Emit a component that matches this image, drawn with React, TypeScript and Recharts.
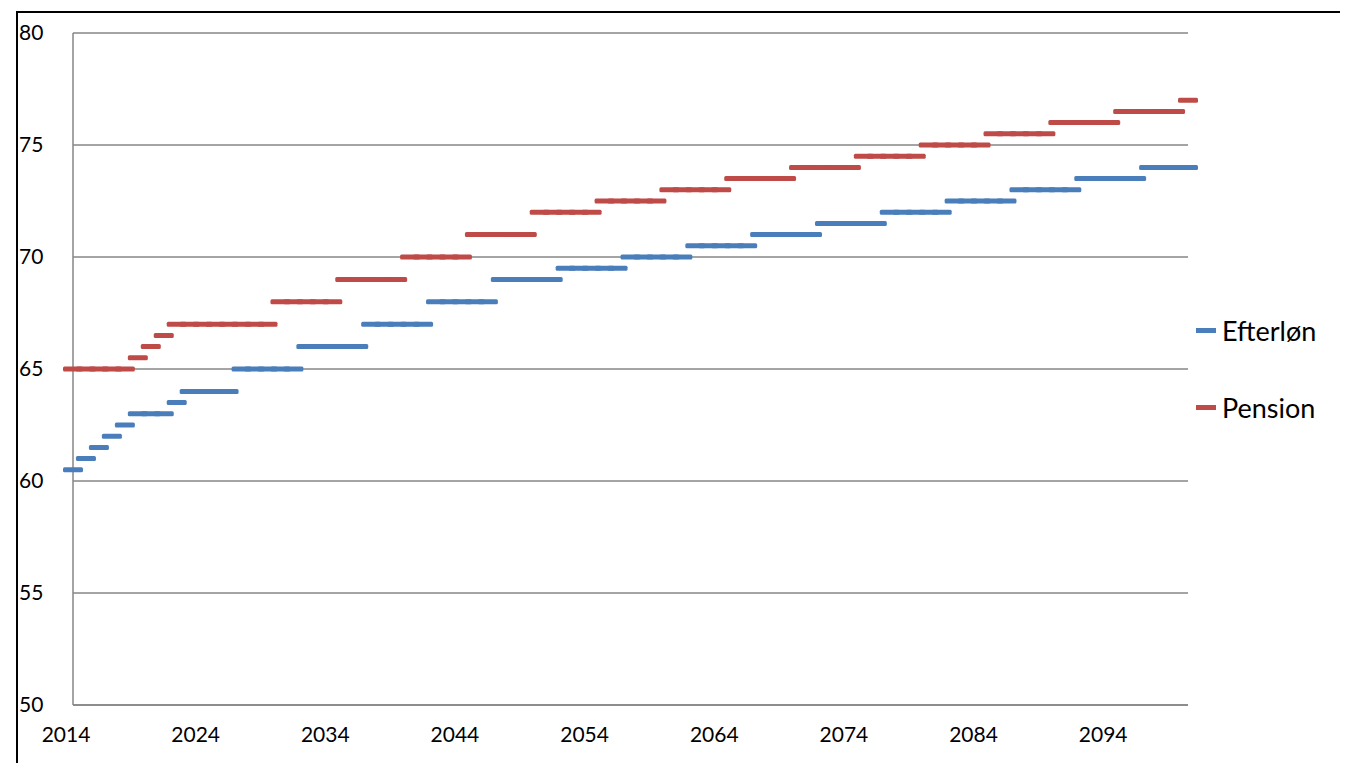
import { CartesianGrid, Line, LineChart, XAxis, YAxis } from "recharts";

const years = [
  2014, 2015, 2016, 2017, 2018, 2019, 2020, 2021, 2022, 2023, 2024, 2025, 2026, 2027, 2028, 2029,
  2030, 2031, 2032, 2033, 2034, 2035, 2036, 2037, 2038, 2039, 2040, 2041, 2042, 2043, 2044, 2045,
  2046, 2047, 2048, 2049, 2050, 2051, 2052, 2053, 2054, 2055, 2056, 2057, 2058, 2059, 2060, 2061,
  2062, 2063, 2064, 2065, 2066, 2067, 2068, 2069, 2070, 2071, 2072, 2073, 2074, 2075, 2076, 2077,
  2078, 2079, 2080, 2081, 2082, 2083, 2084, 2085, 2086, 2087, 2088, 2089, 2090, 2091, 2092, 2093,
  2094, 2095, 2096, 2097, 2098, 2099, 2100,
];

const efterlon = [
  60.5, 61, 61.5, 62, 62.5, 63, 63, 63, 63.5, 64, 64, 64, 64, 65, 65, 65,
  65, 65, 66, 66, 66, 66, 66, 67, 67, 67, 67, 67, 68, 68, 68, 68,
  68, 69, 69, 69, 69, 69, 69.5, 69.5, 69.5, 69.5, 69.5, 70, 70, 70, 70, 70,
  70.5, 70.5, 70.5, 70.5, 70.5, 71, 71, 71, 71, 71, 71.5, 71.5, 71.5, 71.5, 71.5, 72,
  72, 72, 72, 72, 72.5, 72.5, 72.5, 72.5, 72.5, 73, 73, 73, 73, 73, 73.5, 73.5,
  73.5, 73.5, 73.5, 74, 74, 74, 74,
];

const pension = [
  65, 65, 65, 65, 65, 65.5, 66, 66.5, 67, 67, 67, 67, 67, 67, 67, 67,
  68, 68, 68, 68, 68, 69, 69, 69, 69, 69, 70, 70, 70, 70, 70, 71,
  71, 71, 71, 71, 72, 72, 72, 72, 72, 72.5, 72.5, 72.5, 72.5, 72.5, 73, 73,
  73, 73, 73, 73.5, 73.5, 73.5, 73.5, 73.5, 74, 74, 74, 74, 74, 74.5, 74.5, 74.5,
  74.5, 74.5, 75, 75, 75, 75, 75, 75.5, 75.5, 75.5, 75.5, 75.5, 76, 76, 76, 76,
  76, 76.5, 76.5, 76.5, 76.5, 76.5, 77,
];

const yTicks = [50, 55, 60, 65, 70, 75, 80];

const BLUE = "#4a7ebb";
const RED = "#be4b48";
const FONT = "Lato, 'Open Sans', sans-serif";

const data = years.map((year, i) => ({ year, efterlon: efterlon[i], pension: pension[i] }));

const dash = (color: string) => (props: any) => {
  const { cx, cy, index } = props;
  if (cx == null || cy == null) return <g key={index} />;
  return <rect key={index} x={cx - 10} y={cy - 2.5} width={20} height={5} rx={1.5} fill={color} />;
};

function LegendBox() {
  const item = (color: string, label: string) => (
    <div style={{ display: "flex", alignItems: "center", height: 77 }}>
      <div style={{ width: 20, height: 5, background: color, marginRight: 6 }} />
      <span style={{ fontSize: 27, color: "#000" }}>{label}</span>
    </div>
  );
  return (
    <div style={{ fontFamily: FONT }}>
      {item(BLUE, "Efterløn")}
      {item(RED, "Pension")}
    </div>
  );
}

export default function App() {
  return (
    <div style={{ position: "relative", width: 1348, height: 771, margin: -8, background: "#fff", overflow: "hidden" }}>
      <div
        style={{
          position: "absolute",
          left: 16,
          top: 11,
          width: 1400,
          height: 800,
          borderLeft: "2px solid #000",
          borderTop: "2px solid #000",
        }}
      />
      <div style={{ position: "absolute", left: 0, top: 0 }}>
        <LineChart width={1348} height={771} data={data} margin={{ top: 33, right: 160, bottom: 0, left: 23 }}>
          <CartesianGrid vertical={false} stroke="#868686" strokeWidth={1.5} />
          <XAxis
            dataKey="year"
            interval={9}
            height={66}
            stroke="#868686"
            strokeWidth={1.5}
            tickLine={false}
            tick={{ fill: "#000", fontSize: 21, fontFamily: FONT, dx: -7 }}
            tickMargin={16}
          />
          <YAxis
            domain={[50, 80]}
            ticks={yTicks}
            width={50}
            stroke="#868686"
            strokeWidth={1.5}
            tickLine={false}
            tick={{ fill: "#000", fontSize: 21, fontFamily: FONT, textAnchor: "start", dx: -46 }}
          />
          <Line dataKey="efterlon" stroke="none" dot={dash(BLUE)} activeDot={false} isAnimationActive={false} />
          <Line dataKey="pension" stroke="none" dot={dash(RED)} activeDot={false} isAnimationActive={false} />
        </LineChart>
      </div>
      <div style={{ position: "absolute", left: 1196, top: 292 }}>
        <LegendBox />
      </div>
    </div>
  );
}
